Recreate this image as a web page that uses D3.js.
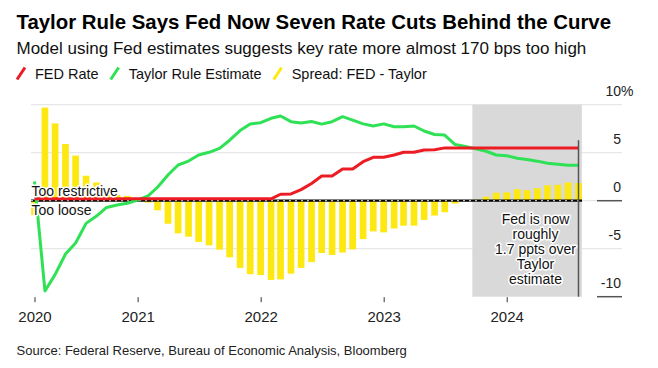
<!DOCTYPE html>
<html>
<head>
<meta charset="utf-8">
<script src="https://cdn.jsdelivr.net/npm/d3@7"></script>
<style>
    body { margin: 0; background: #fff; }
    svg { font-family: "Liberation Sans", Arial, sans-serif; }
</style>
</head>
<body>
<svg id="chart" width="658" height="368"></svg>
<script>
const months = [
    "2020-03", "2020-04", "2020-05", "2020-06", "2020-07", "2020-08", "2020-09", "2020-10", "2020-11", "2020-12",
    "2021-01", "2021-02", "2021-03", "2021-04", "2021-05", "2021-06", "2021-07", "2021-08", "2021-09", "2021-10", "2021-11", "2021-12",
    "2022-01", "2022-02", "2022-03", "2022-04", "2022-05", "2022-06", "2022-07", "2022-08", "2022-09", "2022-10", "2022-11", "2022-12",
    "2023-01", "2023-02", "2023-03", "2023-04", "2023-05", "2023-06", "2023-07", "2023-08", "2023-09", "2023-10", "2023-11", "2023-12",
    "2024-01", "2024-02", "2024-03", "2024-04", "2024-05", "2024-06", "2024-07", "2024-08"
];
const fedRate = [
    0.2, 0.2, 0.2, 0.2, 0.2, 0.2, 0.2, 0.2, 0.2, 0.2,
    0.2, 0.2, 0.2, 0.2, 0.2, 0.2, 0.2, 0.2, 0.2, 0.2, 0.2, 0.2,
    0.2, 0.2, 0.67, 0.7, 1.15, 1.8, 2.57, 2.57, 3.3, 3.3, 4.06, 4.52,
    4.52, 4.76, 5.04, 5.04, 5.28, 5.3, 5.5, 5.5, 5.5, 5.5, 5.5, 5.5,
    5.5, 5.5, 5.5, 5.5, 5.5, 5.5, 5.5, 5.5
];
const taylorRule = [
    2.0, -9.4, -7.7, -5.55, -4.4, -2.36, -1.6, -0.7, -0.45, -0.27,
    0.07, 0.5, 1.4, 2.68, 3.72, 4.13, 4.76, 5.04, 5.45, 6.3, 7.3, 8.0,
    8.13, 8.58, 8.82, 8.23, 8.1, 8.25, 7.98, 8.23, 8.75, 8.4, 8.0, 7.78,
    8.0, 7.71, 7.71, 7.78, 7.26, 6.9, 6.84, 5.85, 5.65, 5.4, 5.15, 4.76,
    4.69, 4.42, 4.3, 4.12, 3.9, 3.8, 3.7, 3.7
];
const spread = [
    -1.5, 9.7, 8.05, 5.9, 4.7, 2.6, 1.9, 0.9, 0.6, 0.5,
    0.1, -0.2, -1.0, -2.4, -3.4, -3.75, -4.3, -4.65, -5.1, -5.9, -7.0, -7.65,
    -7.75, -8.25, -8.2, -7.6, -7.0, -6.4, -5.45, -5.65, -5.4, -5.07, -4.0, -3.2,
    -3.3, -2.9, -2.6, -2.6, -2.0, -1.55, -1.2, -0.3, -0.05, 0.1, 0.42, 0.83,
    0.87, 1.19, 1.1, 1.3, 1.6, 1.65, 1.9, 1.85
];
const yTicks = [10, 5, 0, -5, -10];
const xTickMonths = ["2020-03", "2021-01", "2022-01", "2023-01", "2024-01"];
const xTickLabels = ["2020", "2021", "2022", "2023", "2024"];
const legendLabels = ["FED Rate", "Taylor Rule Estimate", "Spread: FED - Taylor"];
const shadeMonths = ["2023-10", "2024-08"];
const noteLines = ["Fed is now", "roughly", "1.7 ppts over", "Taylor", "estimate"];

const colors = { fed: "#ec1c24", taylor: "#2ee155", spread: "#fde911" };
const legendColors = [colors.fed, colors.taylor, colors.spread];

const svg = d3.select("#chart");
const parse = d3.timeParse("%Y-%m");
const dates = months.map(parse);
const data = dates.map((d, i) => ({ date: d, fed: fedRate[i], taylor: taylorRule[i], spread: spread[i] }));

const plot = { left: 31, right: 582, labelLeft: 597, labelRight: 622 };
const barW = 6.7;

const x = d3.scaleTime()
    .domain([dates[0], dates[dates.length - 1]])
    .range([34.5, 578.5]);
const y = d3.scaleLinear()
    .domain([-10, 10])
    .range([296.7, 104.7]);

// titles
svg.append("text")
    .attr("x", 16.5).attr("y", 29)
    .style("font-size", "20.4px").style("font-weight", "bold").attr("fill", "#000")
    .text("Taylor Rule Says Fed Now Seven Rate Cuts Behind the Curve");
svg.append("text")
    .attr("x", 16.5).attr("y", 54)
    .style("font-size", "17px").attr("fill", "#111")
    .text("Model using Fed estimates suggests key rate more almost 170 bps too high");

// legend
let lx = 17;
legendLabels.forEach((label, i) => {
    svg.append("line")
        .attr("x1", lx).attr("y1", 79.5)
        .attr("x2", lx + 8).attr("y2", 67.5)
        .attr("stroke", legendColors[i]).attr("stroke-width", 3);
    const t = svg.append("text")
        .attr("x", lx + 18).attr("y", 79)
        .style("font-size", "14.5px").attr("fill", "#111")
        .text(label);
    lx += 18 + t.node().getComputedTextLength() + 12;
});

// grid
const grid = svg.append("g").attr("class", "grid");
grid.selectAll("line")
    .data(yTicks.filter(v => v !== -10))
    .join("line")
    .attr("x1", plot.left).attr("x2", plot.labelRight)
    .attr("y1", d => y(d)).attr("y2", d => y(d))
    .attr("stroke", "#e2e2e2").attr("stroke-width", 1);

grid.selectAll("line.axis-mark")
    .data([0, -10])
    .join("line")
    .attr("class", "axis-mark")
    .attr("x1", plot.labelLeft).attr("x2", plot.labelRight)
    .attr("y1", d => y(d)).attr("y2", d => y(d))
    .attr("stroke", "#555").attr("stroke-width", 1.5);

// y labels
svg.append("g").selectAll("text")
    .data(yTicks)
    .join("text")
    .attr("x", 621).attr("y", d => y(d) - 8.5)
    .attr("text-anchor", "end")
    .style("font-size", "14px").attr("fill", "#222")
    .text(d => d);
svg.append("text")
    .attr("x", 621).attr("y", y(10) - 8.5)
    .style("font-size", "14px").attr("fill", "#222")
    .text("%");

// shaded period
const shadeStart = x(parse(shadeMonths[0])) - barW / 2;
const shadeEnd = x(parse(shadeMonths[1])) + barW / 2;
svg.append("rect")
    .attr("x", shadeStart).attr("y", y(10))
    .attr("width", shadeEnd - shadeStart)
    .attr("height", y(-10) - y(10))
    .attr("fill", "#d9d9d9");

// spread bars
svg.append("g").selectAll("rect")
    .data(data)
    .join("rect")
    .attr("x", d => x(d.date) - barW / 2)
    .attr("y", d => Math.min(y(d.spread), y(0)))
    .attr("width", barW)
    .attr("height", d => Math.abs(y(d.spread) - y(0)))
    .attr("fill", colors.spread);

// zero line
svg.append("line")
    .attr("x1", plot.left).attr("x2", plot.right)
    .attr("y1", y(0)).attr("y2", y(0))
    .attr("stroke", "#000").attr("stroke-width", 2.2);
svg.append("line")
    .attr("x1", plot.left).attr("x2", plot.right)
    .attr("y1", y(0)).attr("y2", y(0))
    .attr("stroke", "#fff").attr("stroke-width", 0.9)
    .attr("stroke-dasharray", "2,4");

// lines
const line = key => d3.line().x(d => x(d.date)).y(d => y(d[key]));
svg.append("path")
    .attr("d", line("taylor")(data))
    .attr("fill", "none").attr("stroke", colors.taylor)
    .attr("stroke-width", 3).attr("stroke-linejoin", "round");
svg.append("path")
    .attr("d", line("fed")(data))
    .attr("fill", "none").attr("stroke", colors.fed)
    .attr("stroke-width", 3).attr("stroke-linejoin", "round");

// marker at latest reading
const last = dates[dates.length - 1];
svg.append("line")
    .attr("x1", x(last)).attr("x2", x(last))
    .attr("y1", y(6.3)).attr("y2", y(-10))
    .attr("stroke", "#555").attr("stroke-width", 1.5);

// x axis
const xAxis = d3.axisBottom(x)
    .tickValues(xTickMonths.map(parse))
    .tickFormat((d, i) => xTickLabels[i])
    .tickSize(5)
    .tickPadding(9);
const axisG = svg.append("g")
    .attr("transform", "translate(0," + (y(-10) + 0.5) + ")")
    .call(xAxis);
axisG.select(".domain").remove();
axisG.selectAll("line").attr("stroke", "#333");
axisG.selectAll("text")
    .style("font-size", "15px")
    .style("font-family", "'Liberation Sans', Arial, sans-serif")
    .attr("fill", "#222");

// annotations
const halo = sel => sel
    .attr("stroke", "#fff").attr("stroke-width", 3)
    .attr("stroke-linejoin", "round").attr("paint-order", "stroke");

svg.append("text")
    .attr("x", 31.5).attr("y", 195.7)
    .style("font-size", "14px").attr("fill", "#111")
    .call(halo)
    .text("Too restrictive");
svg.append("text")
    .attr("x", 31.5).attr("y", 215)
    .style("font-size", "14px").attr("fill", "#111")
    .call(halo)
    .text("Too loose");

svg.append("g").selectAll("text")
    .data(noteLines)
    .join("text")
    .attr("x", 535.5)
    .attr("y", (d, i) => 224 + i * 15.1)
    .attr("text-anchor", "middle")
    .style("font-size", "14px").attr("fill", "#111")
    .call(halo)
    .text(d => d);

// source
svg.append("text")
    .attr("x", 16.5).attr("y", 355)
    .style("font-size", "13px").attr("fill", "#222")
    .text("Source: Federal Reserve, Bureau of Economic Analysis, Bloomberg");
</script>
</body>
</html>
